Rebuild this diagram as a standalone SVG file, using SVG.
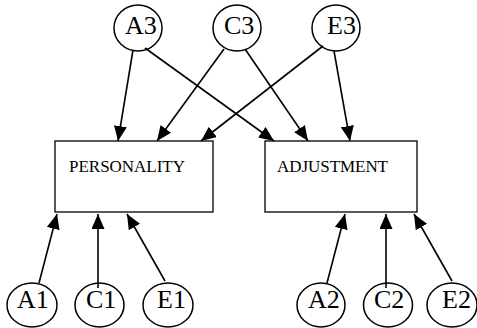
<svg xmlns="http://www.w3.org/2000/svg" width="477" height="328" viewBox="0 0 477 328">
<defs>
<marker id="ah" markerUnits="userSpaceOnUse" markerWidth="15" markerHeight="13" refX="15" refY="6.5" orient="auto">
<path d="M0,0 L15,6.5 L0,13 z" fill="#000"/>
</marker>
<style>
.n ellipse{fill:#fff;stroke:#000;stroke-width:1.5}
.n rect{fill:#fff;stroke:#000;stroke-width:1.3}
.l{font-family:"Liberation Serif","Times New Roman",serif;font-size:26px;fill:#000}
.b{font-family:"Liberation Serif","Times New Roman",serif;font-size:17px;fill:#000}
.c line{stroke:#000;stroke-width:1.6;marker-end:url(#ah)}
</style>
</defs>
<g id="PERSONALITY" class="n"><rect x="55" y="141" width="158" height="71"/><text class="b" x="69" y="172" textLength="116">PERSONALITY</text></g>
<g id="ADJUSTMENT" class="n"><rect x="265" y="141" width="152" height="71"/><text class="b" x="277" y="172" textLength="111">ADJUSTMENT</text></g>
<g id="A3" class="n"><ellipse cx="138" cy="28" rx="24" ry="23"/><text class="l" x="125" y="34">A3</text></g>
<g id="C3" class="n"><ellipse cx="237" cy="28" rx="24" ry="23"/><text class="l" x="224" y="34">C3</text></g>
<g id="E3" class="n"><ellipse cx="336" cy="28" rx="24" ry="23"/><text class="l" x="327" y="34">E3</text></g>
<g id="A1" class="n"><ellipse cx="32" cy="305" rx="25" ry="22"/><text class="l" x="17" y="308">A1</text></g>
<g id="C1" class="n"><ellipse cx="99.5" cy="305" rx="24.5" ry="22"/><text class="l" x="86" y="308">C1</text></g>
<g id="E1" class="n"><ellipse cx="168" cy="305" rx="25" ry="22"/><text class="l" x="157" y="308">E1</text></g>
<g id="A2" class="n"><ellipse cx="321" cy="305" rx="24" ry="22"/><text class="l" x="308" y="308">A2</text></g>
<g id="C2" class="n"><ellipse cx="388" cy="305" rx="24.5" ry="22"/><text class="l" x="374" y="308">C2</text></g>
<g id="E2" class="n"><ellipse cx="452" cy="305" rx="25" ry="22"/><text class="l" x="442" y="308">E2</text></g>
<g id="connectors" class="c">
<line x1="133" y1="50" x2="118" y2="141"/>
<line x1="145" y1="48" x2="274" y2="141"/>
<line x1="224" y1="49" x2="157" y2="141"/>
<line x1="245" y1="49" x2="308" y2="141"/>
<line x1="323" y1="46" x2="201" y2="141"/>
<line x1="334" y1="51" x2="350" y2="141"/>
<line x1="39" y1="283" x2="57" y2="214"/>
<line x1="98" y1="288" x2="98" y2="214"/>
<line x1="165" y1="281" x2="127" y2="214"/>
<line x1="327" y1="283" x2="345" y2="214"/>
<line x1="386" y1="288" x2="386" y2="214"/>
<line x1="452" y1="281" x2="414" y2="214"/>
</g>
</svg>
